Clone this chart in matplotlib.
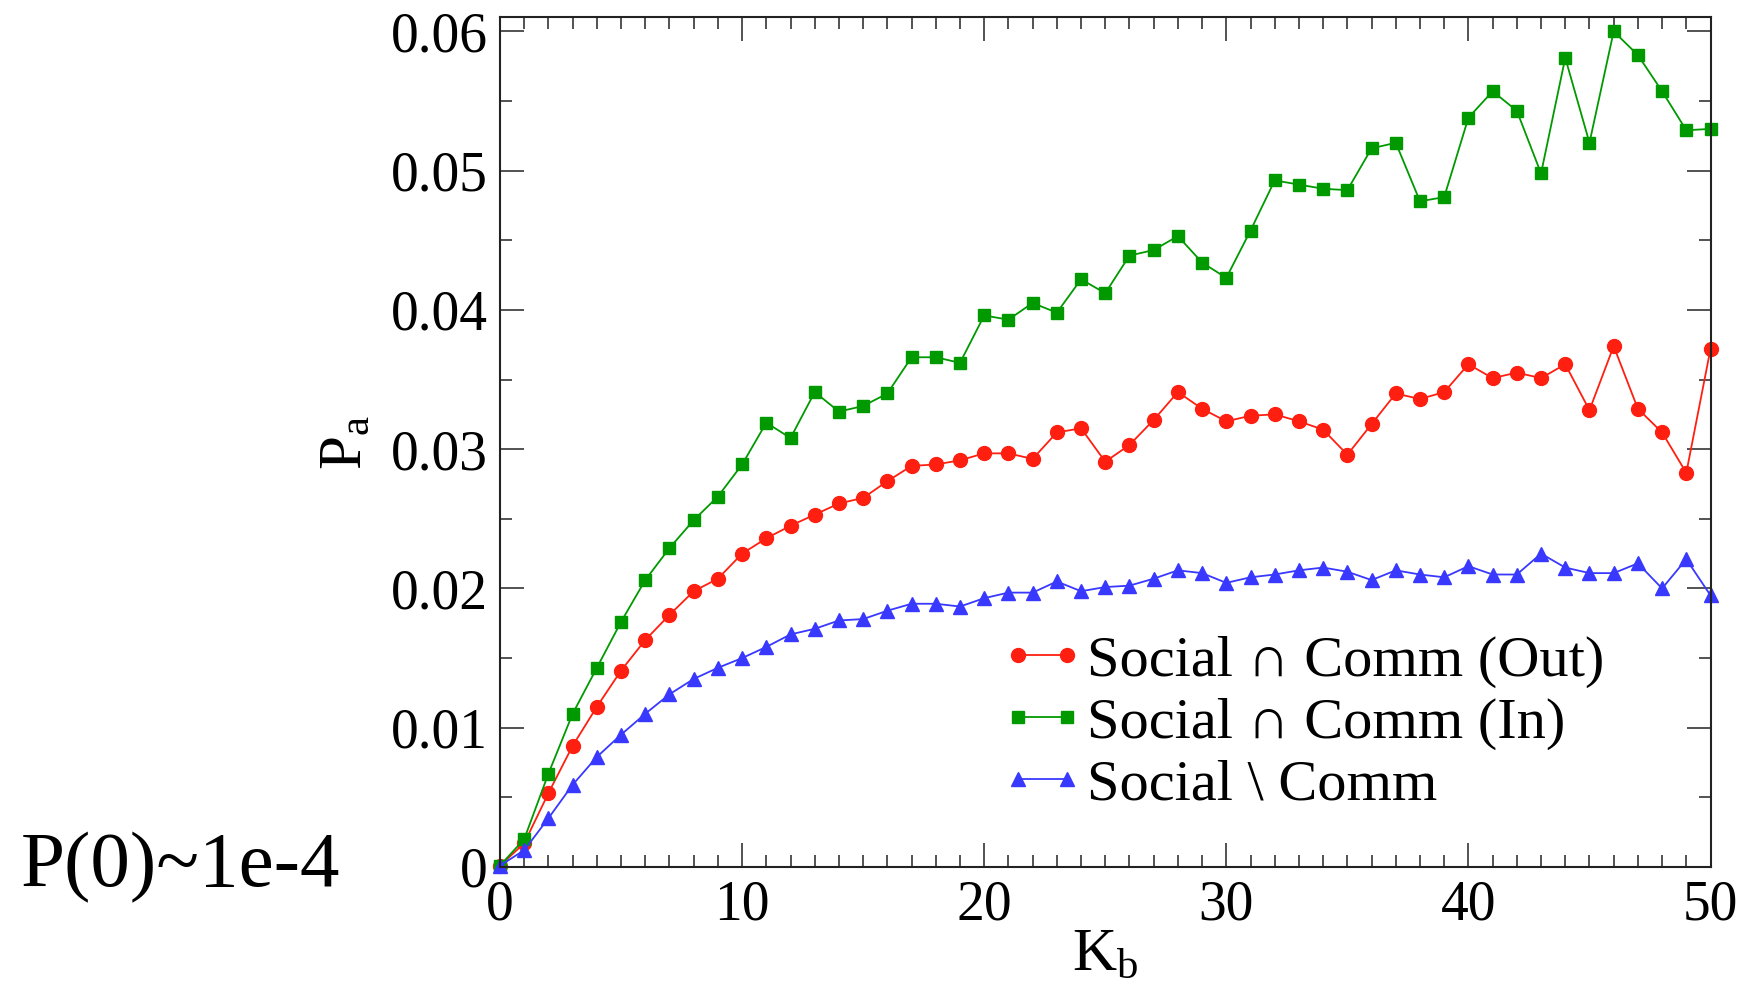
import matplotlib
matplotlib.use('Agg')
import matplotlib.pyplot as plt
from matplotlib.ticker import MultipleLocator, FuncFormatter
from matplotlib.legend_handler import HandlerLine2D

plt.rcParams['font.family'] = ['Liberation Serif', 'DejaVu Serif']
plt.rcParams['mathtext.fontset'] = 'custom'
plt.rcParams['mathtext.rm'] = 'Liberation Serif'
plt.rcParams['mathtext.it'] = 'Liberation Serif'

# K_b values and the three P_a curves
k_b = list(range(51))
p_out = [0.0001, 0.0017, 0.0053, 0.0087, 0.0115, 0.0141, 0.0163, 0.0181, 0.0198, 0.0207,
         0.0225, 0.0236, 0.0245, 0.0253, 0.0261, 0.0265, 0.0277, 0.0288, 0.0289, 0.0292,
         0.0297, 0.0297, 0.0293, 0.0312, 0.0315, 0.0291, 0.0303, 0.0321, 0.0341, 0.0329,
         0.0320, 0.0324, 0.0325, 0.0320, 0.0314, 0.0296, 0.0318, 0.0340, 0.0336, 0.0341,
         0.0361, 0.0351, 0.0355, 0.0351, 0.0361, 0.0328, 0.0374, 0.0329, 0.0312, 0.0283,
         0.0372]
p_in = [0.0001, 0.0020, 0.0067, 0.0110, 0.0143, 0.0176, 0.0206, 0.0229, 0.0249, 0.0266,
        0.0289, 0.0319, 0.0308, 0.0341, 0.0327, 0.0331, 0.0340, 0.0366, 0.0366, 0.0362,
        0.0396, 0.0393, 0.0405, 0.0398, 0.0422, 0.0412, 0.0439, 0.0443, 0.0453, 0.0434,
        0.0423, 0.0457, 0.0493, 0.0490, 0.0487, 0.0486, 0.0516, 0.0520, 0.0478, 0.0481,
        0.0538, 0.0557, 0.0543, 0.0498, 0.0581, 0.0520, 0.0600, 0.0583, 0.0557, 0.0529,
        0.0530]
p_not = [0.0001, 0.0012, 0.0035, 0.0059, 0.0079, 0.0095, 0.0110, 0.0124, 0.0135, 0.0143,
         0.0150, 0.0158, 0.0167, 0.0171, 0.0177, 0.0178, 0.0184, 0.0189, 0.0189, 0.0187,
         0.0193, 0.0197, 0.0197, 0.0205, 0.0198, 0.0201, 0.0202, 0.0207, 0.0213, 0.0211,
         0.0204, 0.0208, 0.0210, 0.0213, 0.0215, 0.0212, 0.0206, 0.0213, 0.0210, 0.0208,
         0.0216, 0.0210, 0.0210, 0.0225, 0.0215, 0.0211, 0.0211, 0.0218, 0.0200, 0.0221,
         0.0195]

labels = ['Social \u2229 Comm (Out)', 'Social \u2229 Comm (In)', 'Social \\ Comm']

fig = plt.figure(figsize=(17.44, 9.98), dpi=100)
ax = fig.add_axes([0.2867, 0.1313, 0.6941, 0.8512])

ax.plot(k_b, p_out, color='#ff1f10', lw=1.3, marker='o', ms=10, clip_on=False, label=labels[0])
ax.plot(k_b, p_in, color='#009a00', lw=1.3, marker='s', ms=8.5, clip_on=False, label=labels[1])
ax.plot(k_b, p_not, color='#3838ff', lw=1.3, marker='^', ms=10, clip_on=False, label=labels[2])

ax.set_xlim(0, 50)
ax.set_ylim(0, 0.061)
ax.xaxis.set_major_locator(MultipleLocator(10))
ax.xaxis.set_minor_locator(MultipleLocator(1))
ax.yaxis.set_major_locator(MultipleLocator(0.01))
ax.yaxis.set_minor_locator(MultipleLocator(0.005))
ax.yaxis.set_major_formatter(FuncFormatter(lambda v, p: '0' if abs(v) < 1e-9 else '%.2f' % v))

ax.tick_params(which='both', direction='in', top=True, right=True,
               labelsize=40, color='#444444', width=1.3)
ax.tick_params(which='major', length=17, pad=9)
ax.tick_params(which='minor', length=8.5)
for s in ax.spines.values():
    s.set_linewidth(1.5)
    s.set_color('#222222')

ax.set_xlabel('K$_\\mathrm{b}$', fontsize=44, labelpad=-3)
ax.set_ylabel('P$_\\mathrm{a}$', fontsize=44, labelpad=12)

leg = ax.legend(loc='upper left', bbox_to_anchor=(1018 / 1744, 1 - 635 / 998),
                bbox_transform=fig.transFigure, frameon=False, fontsize=42,
                borderpad=0, borderaxespad=0, handlelength=0.84, handletextpad=0.35,
                labelspacing=0.15, numpoints=2,
                handler_map={matplotlib.lines.Line2D: HandlerLine2D(marker_pad=0)})

fig.text(21 / 1744, 1 - 886 / 998, 'P(0)~1e-4', fontsize=57, ha='left', va='baseline')

fig.savefig('out.png', dpi=100)
